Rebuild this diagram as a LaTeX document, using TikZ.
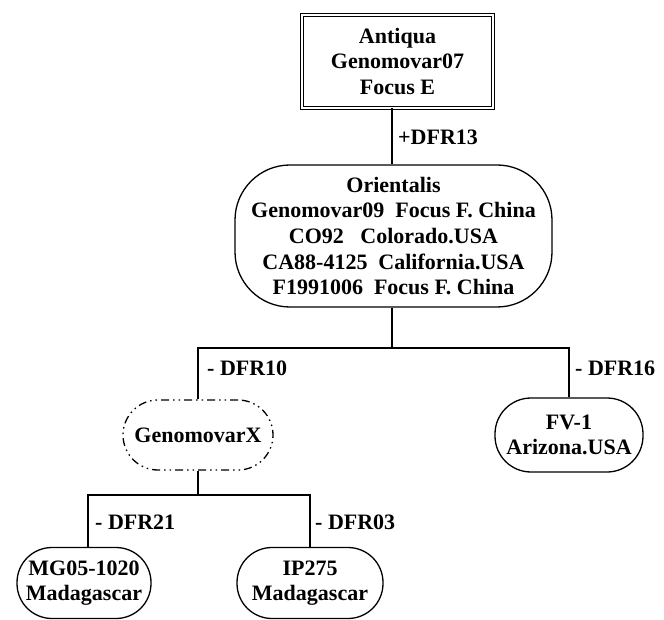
\documentclass[tikz,border=0pt]{standalone}
\usepackage{fontspec}
\setmainfont{Liberation Serif}
\begin{document}
\begin{tikzpicture}[x=1pt,y=-1pt,
  every node/.style={font=\fontsize{22}{25.7}\selectfont\bfseries, align=center, inner sep=0pt},
  lin/.style={line width=1.3pt},
  box/.style={draw, line width=1.3pt, rounded corners=#1},
  lbl/.style={anchor=west}]
\useasboundingbox (0,0) rectangle (664,620);
\node[draw, double, double distance=2.2pt, line width=0.9pt, minimum width=191pt, minimum height=93pt] (top) at (397.5,61.5) {Antiqua\\Genomovar07\\Focus E};
\node[box=55pt, minimum width=317pt, minimum height=142pt] (ori) at (393.5,236) {Orientalis\\Genomovar09\ \ Focus F. China\\CO92\ \ \ Colorado.USA\\CA88-4125\ \ California.USA\\F1991006\ \ Focus F. China};
\node[box=35pt, dash pattern=on 8pt off 4pt on 1.5pt off 4pt on 1.5pt off 4pt, minimum width=150pt, minimum height=70pt] (gx) at (198,435) {GenomovarX};
\node[box=36pt, minimum width=148pt, minimum height=74pt] (fv) at (569,435) {FV-1\\Arizona.USA};
\node[box=35pt, minimum width=134pt, minimum height=71pt] (mg) at (84,583) {MG05-1020\\Madagascar};
\node[box=35pt, minimum width=146pt, minimum height=71pt] (ip) at (310,583) {IP275\\Madagascar};
\coordinate (b1) at (392,348);
\coordinate (b2) at (198,495);
\draw[lin] (top.south -| b1) -- (ori.north -| b1);
\draw[lin] (ori.south -| b1) -- (b1);
\draw[lin] (gx.north) |- (b1) -| (fv.north);
\draw[lin] (gx.south) -- (b2);
\draw[lin] (mg.north -| 88,0) |- (b2) -| (ip.north);
\node[lbl] (l13) at (398,137) {+DFR13};
\node[lbl] (l10) at (207,368) {- DFR10};
\node[lbl] (l16) at (575,368) {- DFR16};
\node[lbl] (l21) at (95,522) {- DFR21};
\node[lbl] (l03) at (315,522) {- DFR03};
\end{tikzpicture}
\end{document}
